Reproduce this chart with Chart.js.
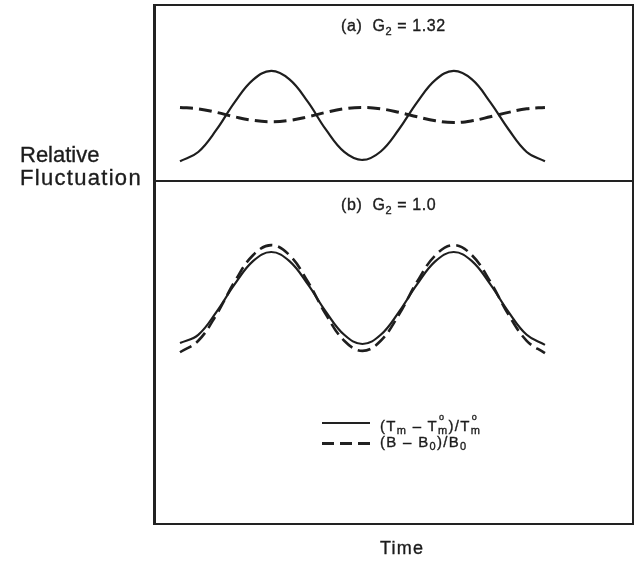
<!DOCTYPE html>
<html>
<head>
<meta charset="utf-8">
<script src="https://cdn.jsdelivr.net/npm/chart.js@4/dist/chart.umd.min.js"></script>
<style>
  body { margin: 0; background: #fff; }
  #wrap { position: relative; width: 636px; height: 562px; font-family: "Liberation Sans", Arial, sans-serif; color: #1c1c1c; }
  canvas { position: absolute; left: 0; top: 0; }
  .frame { position: absolute; left: 153px; top: 4px; width: 481px; height: 521px; box-sizing: border-box;
           border: 2px solid #222; border-left-width: 3px; }
  .divider { position: absolute; left: 153px; top: 180px; width: 481px; height: 2px; background: #222; }
  .lbl { position: absolute; white-space: nowrap; -webkit-text-stroke: 0.35px #1c1c1c; }
  .panel { font-size: 16px; line-height: 16px; letter-spacing: 0.6px; }
  .panel sub { font-size: 11px; line-height: 0; vertical-align: -4px; }
  .ylab { left: 20px; top: 144px; font-size: 22px; line-height: 22.5px; }
  .xlab { left: 380px; top: 539px; font-size: 18px; line-height: 18px; letter-spacing: 1.2px; }
  .leg { font-size: 15px; line-height: 15px; letter-spacing: 1.3px; left: 380px; }
  .leg sub { font-size: 11px; line-height: 0; vertical-align: -3px; }
  .om { position: relative; display: inline-block; }
  .om i { position: absolute; left: 1px; top: -5px; font-style: normal; font-size: 9px; line-height: 9px; }
  .sample { position: absolute; left: 322px; width: 48px; }
</style>
</head>
<body>
<div id="wrap">
  <canvas id="chartA" width="636" height="562"></canvas>
  <canvas id="chartB" width="636" height="562"></canvas>
  <div class="frame"></div>
  <div class="divider"></div>

  <div class="lbl panel" style="left:341px; top:18px;">(a)&nbsp; G<sub>2</sub> = 1.32</div>
  <div class="lbl panel" style="left:341px; top:197px;">(b)&nbsp; G<sub>2</sub> = 1.0</div>

  <div class="lbl ylab">Relative<br><span style="letter-spacing:1.3px">Fluctuation</span></div>
  <div class="lbl xlab">Time</div>

  <div class="sample" style="top:422px; height:2px; background:#222;"></div>
  <div class="sample" style="top:442px; height:3px; background:repeating-linear-gradient(to right,#222 0 12px,transparent 12px 18px);"></div>
  <div class="lbl leg" style="top:418px;">(T<sub>m</sub> – T<span class="om"><sub>m</sub><i>o</i></span>)/T<span class="om"><sub>m</sub><i>o</i></span></div>
  <div class="lbl leg" style="top:434px;">(B – B<sub>0</sub>)/B<sub>0</sub></div>
</div>

<script>
// time samples, two full periods
const time = [0, 1, 2, 3, 4, 5, 6, 7, 8, 9, 10, 11, 12, 13, 14, 15, 16, 17, 18, 19, 20];

// (a) G2 = 1.32
const tempA = [-1.03, -0.82, -0.32, 0.30, 0.80, 1.00, 0.81, 0.31, -0.32, -0.82, -1.00, -0.81, -0.31, 0.30, 0.80, 1.00, 0.81, 0.30, -0.31, -0.82, -1.03];
const fieldA = [0.18, 0.15, 0.07, -0.03, -0.11, -0.14, -0.11, -0.03, 0.07, 0.15, 0.18, 0.15, 0.07, -0.03, -0.12, -0.16, -0.12, -0.03, 0.07, 0.15, 0.18];

// (b) G2 = 1.0
const tempB = [-0.98, -0.80, -0.30, 0.30, 0.80, 1.00, 0.80, 0.30, -0.30, -0.80, -1.00, -0.80, -0.30, 0.30, 0.80, 1.00, 0.80, 0.30, -0.30, -0.80, -1.02];
const fieldB = [-1.18, -0.93, -0.36, 0.36, 0.93, 1.15, 0.93, 0.36, -0.36, -0.93, -1.15, -0.93, -0.36, 0.36, 0.93, 1.15, 0.93, 0.36, -0.36, -0.93, -1.20];

const ink = '#1e1e1e';

function series(values, dashed, width) {
  return {
    data: time.map((t, i) => ({ x: t, y: values[i] })),
    borderColor: ink,
    borderWidth: width,
    borderDash: dashed ? [13, 6] : [],
    pointRadius: 0,
    tension: 0.4,
    fill: false
  };
}

function makePanel(id, datasets, yMin, yMax, padTop, padBottom) {
  return new Chart(document.getElementById(id), {
    type: 'line',
    data: { datasets: datasets },
    options: {
      responsive: false,
      animation: false,
      devicePixelRatio: 1,
      layout: { padding: { left: 155, right: 4, top: padTop, bottom: padBottom } },
      plugins: { legend: { display: false }, tooltip: { enabled: false } },
      scales: {
        x: { type: 'linear', min: -1.37, max: 24.77, display: false },
        y: { min: yMin, max: yMax, display: false }
      }
    }
  });
}

makePanel('chartA', [series(tempA, false, 2.2), series(fieldA, true, 3)], -1.45, 2.46, 6, 382);
makePanel('chartB', [series(tempB, false, 2.2), series(fieldB, true, 2.6)], -4.87, 2.5, 183, 40);
</script>
</body>
</html>
